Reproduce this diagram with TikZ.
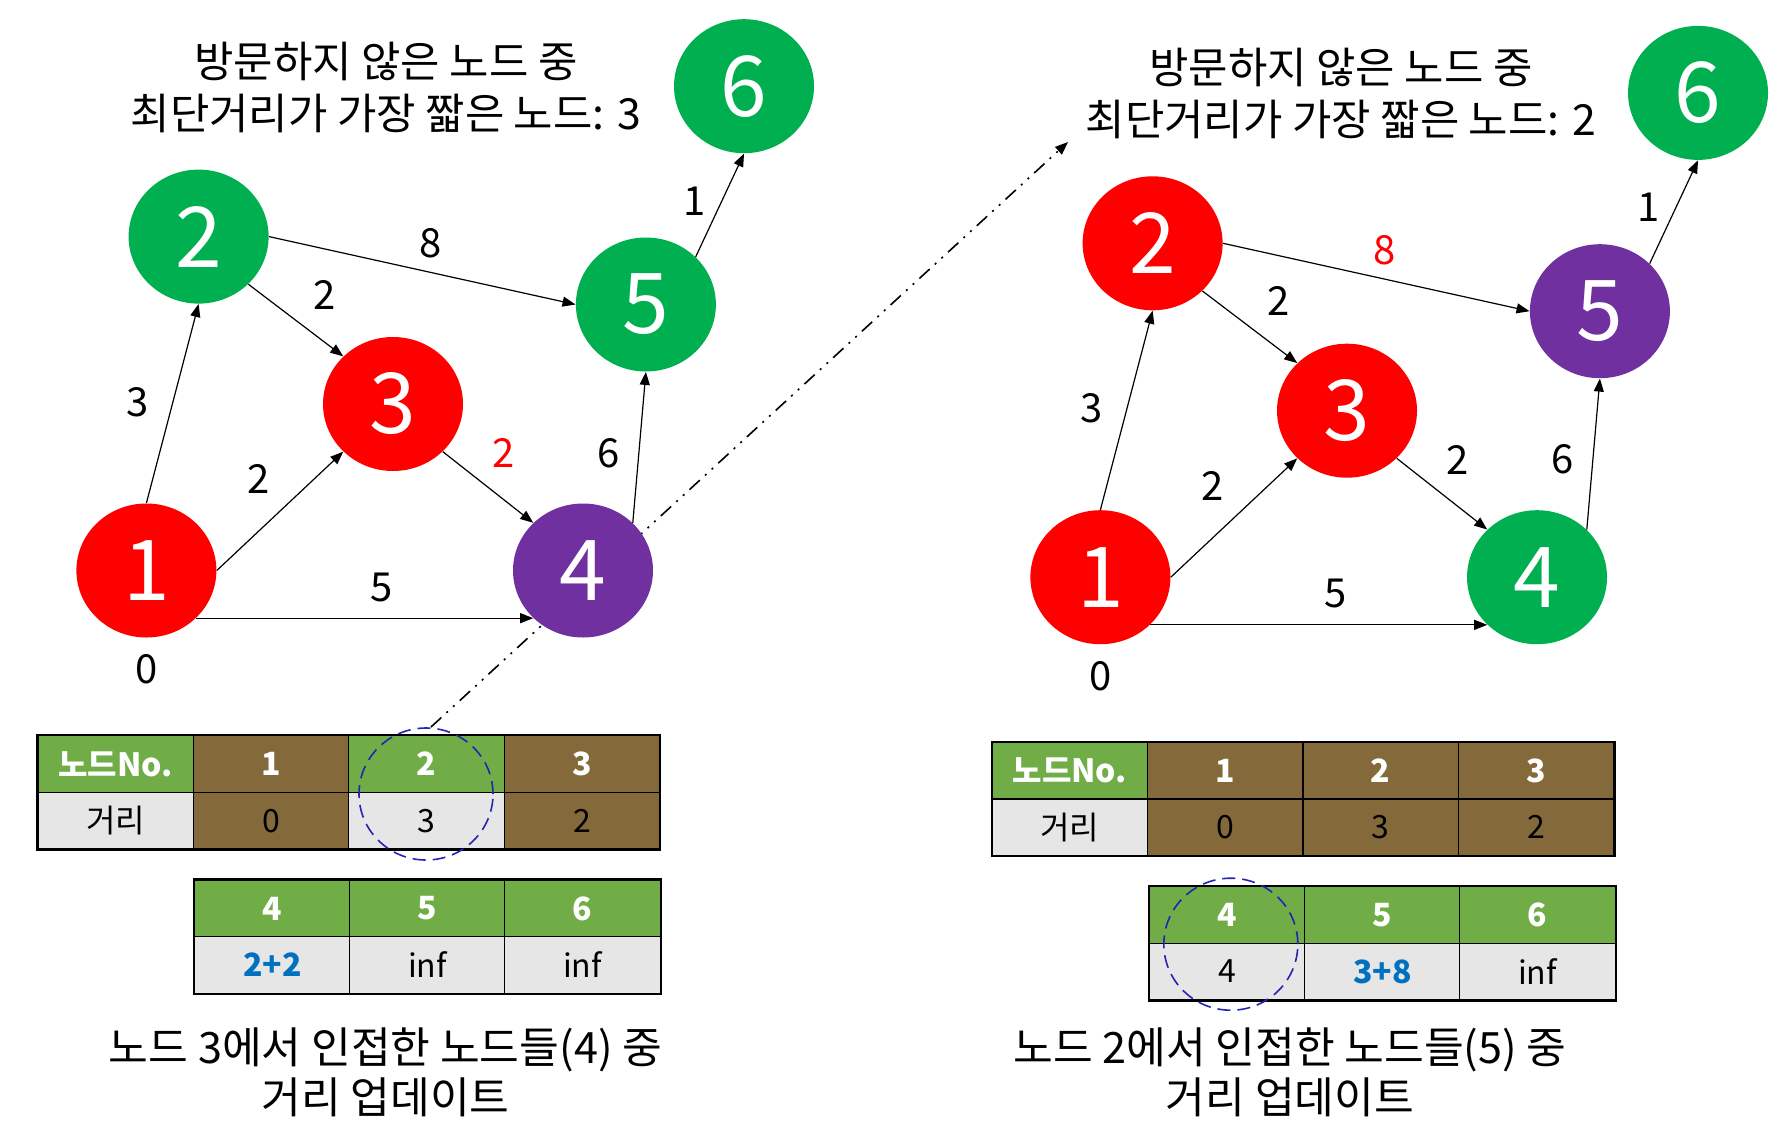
\documentclass[tikz,border=0pt]{standalone}
\usepackage{fontspec}
\setmainfont{Noto Sans CJK KR}
\usetikzlibrary{shapes.geometric,arrows.meta}
\definecolor{nred}{HTML}{FF0000}
\definecolor{ngreen}{HTML}{00B050}
\definecolor{npurple}{HTML}{7030A0}
\definecolor{tgreen}{HTML}{70AD47}
\definecolor{tbrown}{HTML}{846A3A}
\definecolor{tgrey}{HTML}{E7E6E6}
\definecolor{tblue}{HTML}{0070C0}
\definecolor{cblue}{HTML}{2424B4}
\begin{document}
\begin{tikzpicture}[x=0.5pt,y=-0.5pt,
  gnode/.style={ellipse, minimum width=70pt, minimum height=67pt, inner sep=0pt, text=white, font=\fontsize{42}{42}\selectfont},
  gred/.style={gnode, fill=nred},
  ggreen/.style={gnode, fill=ngreen},
  gpurple/.style={gnode, fill=npurple},
  garrow/.style={-{Triangle[length=6.5pt,width=5pt]}, line width=0.6pt},
  elabel/.style={font=\fontsize{20}{24}\selectfont, inner sep=0pt},
  ttext/.style={align=center, font=\fontsize{21.4}{26}\selectfont, inner sep=0pt},
  btext/.style={align=center, font=\fontsize{21.6}{25}\selectfont, inner sep=0pt},
  cell/.style={draw=black, line width=0.6pt, minimum width=77.7pt, minimum height=28.3pt, inner sep=0pt, font=\fontsize{16}{16}\selectfont},
  hgreen/.style={cell, fill=tgreen, text=white, font=\fontsize{16}{16}\selectfont\bfseries},
  hbrown/.style={cell, fill=tbrown, text=white, font=\fontsize{16}{16}\selectfont\bfseries},
  vbrown/.style={cell, fill=tbrown},
  vgrey/.style={cell, fill=tgrey},
  vblue/.style={cell, fill=tgrey, text=tblue, font=\fontsize{16}{16}\selectfont\bfseries},
  outer/.style={draw=black, line width=1.1pt},
  hilite/.style={draw=cblue, line width=0.8pt, dash pattern=on 6.5pt off 3.5pt},
  dashdot/.style={-{Triangle[length=6.5pt,width=5pt]}, line width=0.8pt, dash pattern=on 7pt off 3.5pt on 1pt off 3.5pt on 1pt off 3.5pt}
]
\useasboundingbox (0,0) rectangle (1780,1129);

% dash-dot connector
\coordinate (dA) at (431,727);
\coordinate (dB) at (1068,142);
\draw[dashdot] (dA) -- (dB);

% ---------- left graph ----------
\node[gred]    (L1) at (146.4,570.5) {1};
\node[ggreen]  (L2) at (198.6,236.6) {2};
\node[gred]    (L3) at (393,404) {3};
\node[gpurple] (L4) at (583,570.5) {4};
\node[ggreen]  (L5) at (645.9,304.5) {5};
\node[ggreen]  (L6) at (744,86.2) {6};

\draw[garrow] (L1.north) -- (L2.south);
\draw[garrow] (L1.east) -- (L3.south west);
\draw[garrow] (L1.south east) -- (L4.south west);
\draw[garrow] (L2.south east) -- (L3.north west);
\draw[garrow] (L2.east) -- (L5.west);
\draw[garrow] (L3.south east) -- (L4.north west);
\draw[garrow] (L4.north east) -- (L5.south);
\draw[garrow] (L5.north east) -- (L6.south);

\node[elabel] (Le25) at (431,243.3) {8};
\node[elabel] (Le23) at (324.6,294.6) {2};
\node[elabel] (Le12) at (138,401.8) {3};
\node[elabel] (Le13) at (259,479) {2};
\node[elabel,text=nred] (Le34) at (503.4,453) {2};
\node[elabel] (Le45) at (608.4,453) {6};
\node[elabel] (Le56) at (695,201) {1};
\node[elabel] (Le14) at (381.4,587) {5};
\node[elabel] (Ld1) at (146.4,669.6) {0};

\node[ttext] (Lt) at (386,87) {방문하지 않은 노드 중\\최단거리가 가장 짧은 노드: 3};

% left tables
\node[hgreen] (LTa1) at (115.7,764) {노드No.};
\node[hbrown] (LTa2) at (271.1,764) {1};
\node[hgreen] (LTa3) at (426.5,764) {2};
\node[hbrown] (LTa4) at (581.9,764) {3};
\node[vgrey]  (LTb1) at (115.7,820.6) {거리};
\node[vbrown] (LTb2) at (271.1,820.6) {0};
\node[vgrey]  (LTb3) at (426.5,820.6) {3};
\node[vbrown] (LTb4) at (581.9,820.6) {2};
\draw[outer] (LTa1.north west) rectangle (LTb4.south east);

\node[hgreen] (LUa1) at (272.5,908.4) {4};
\node[hgreen] (LUa2) at (427.5,908.4) {5};
\node[hgreen] (LUa3) at (582.5,908.4) {6};
\node[vblue]  (LUb1) at (272.5,965) {2+2};
\node[vgrey]  (LUb2) at (427.5,965) {inf};
\node[vgrey]  (LUb3) at (582.5,965) {inf};
\draw[outer] (LUa1.north west) rectangle (LUb3.south east);

\node[hilite, ellipse, minimum width=67pt, minimum height=66pt, inner sep=0pt] (Lc) at (426,794) {};

\node[btext] (Lb) at (385.5,1072) {노드 3에서 인접한 노드들(4) 중\\거리 업데이트};

% ---------- right graph ----------
\node[gred]    (R1) at (1100.4,577.2) {1};
\node[gred]    (R2) at (1152.6,243.3) {2};
\node[gred]    (R3) at (1347,410.7) {3};
\node[ggreen]  (R4) at (1537,577.2) {4};
\node[gpurple] (R5) at (1599.9,311.2) {5};
\node[ggreen]  (R6) at (1698,92.9) {6};

\draw[garrow] (R1.north) -- (R2.south);
\draw[garrow] (R1.east) -- (R3.south west);
\draw[garrow] (R1.south east) -- (R4.south west);
\draw[garrow] (R2.south east) -- (R3.north west);
\draw[garrow] (R2.east) -- (R5.west);
\draw[garrow] (R3.south east) -- (R4.north west);
\draw[garrow] (R4.north east) -- (R5.south);
\draw[garrow] (R5.north east) -- (R6.south);

\node[elabel,text=nred] (Re25) at (1385,250) {8};
\node[elabel] (Re23) at (1278.6,301.3) {2};
\node[elabel] (Re12) at (1092,408.5) {3};
\node[elabel] (Re13) at (1213,485.7) {2};
\node[elabel] (Re34) at (1457.4,459.7) {2};
\node[elabel] (Re45) at (1562.4,459.7) {6};
\node[elabel] (Re56) at (1649,207.7) {1};
\node[elabel] (Re14) at (1335.4,593.7) {5};
\node[elabel] (Rd1) at (1100.4,676.3) {0};

\node[ttext] (Rt) at (1341,93.5) {방문하지 않은 노드 중\\최단거리가 가장 짧은 노드: 2};

% right tables
\node[hgreen] (RTa1) at (1069.9,770.6) {노드No.};
\node[hbrown] (RTa2) at (1225.3,770.6) {1};
\node[hbrown] (RTa3) at (1380.7,770.6) {2};
\node[hbrown] (RTa4) at (1536.1,770.6) {3};
\node[vgrey]  (RTb1) at (1069.9,827.3) {거리};
\node[vbrown] (RTb2) at (1225.3,827.3) {0};
\node[vbrown] (RTb3) at (1380.7,827.3) {3};
\node[vbrown] (RTb4) at (1536.1,827.3) {2};
\draw[outer] (RTa1.north west) rectangle (RTb4.south east);

\node[hgreen] (RUa1) at (1227.5,915) {4};
\node[hgreen] (RUa2) at (1382.5,915) {5};
\node[hgreen] (RUa3) at (1537.5,915) {6};
\node[vgrey]  (RUb1) at (1227.5,971.5) {4};
\node[vblue]  (RUb2) at (1382.5,971.5) {3+8};
\node[vgrey]  (RUb3) at (1537.5,971.5) {inf};
\draw[outer] (RUa1.north west) rectangle (RUb3.south east);

\node[hilite, ellipse, minimum width=67pt, minimum height=66pt, inner sep=0pt] (Rc) at (1230.8,944.2) {};

\node[btext] (Rb) at (1290,1072.5) {노드 2에서 인접한 노드들(5) 중\\거리 업데이트};
\end{tikzpicture}
\end{document}
